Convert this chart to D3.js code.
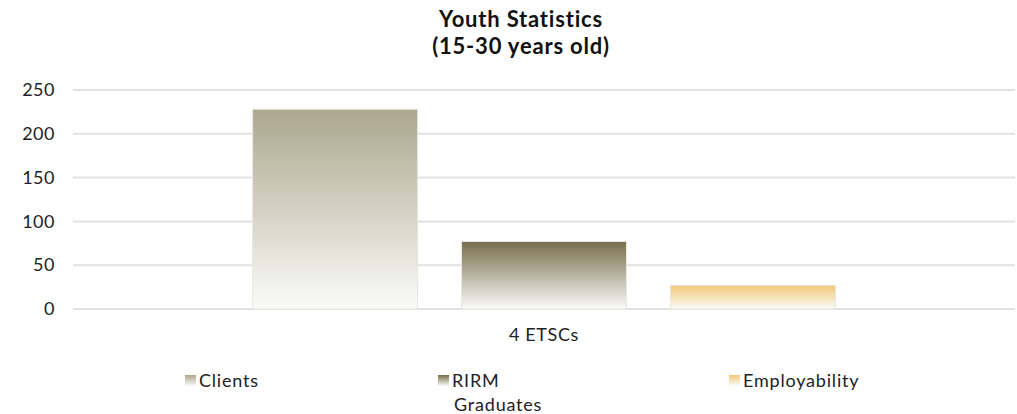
<!DOCTYPE html>
<html>
<head>
<meta charset="utf-8">
<script src="https://cdn.jsdelivr.net/npm/d3@7"></script>
<style>
  html, body { margin: 0; padding: 0; background: #ffffff; }
  svg { display: block; font-family: Lato, "Open Sans", sans-serif; }
</style>
</head>
<body>
<svg id="chart" width="1017" height="414"></svg>
<script>
// Youth statistics, one category group with three series
const titleLines = ["Youth Statistics", "(15-30 years old)"];
const categories = ["4 ETSCs"];
const seriesNames = ["Clients", "RIRM Graduates", "Employability"];
const seriesValues = [228, 77, 27];
const yTicks = [0, 50, 100, 150, 200, 250];
const seriesTopColors = ["#aca78d", "#776e4c", "#f1c978"];

const svg = d3.select("#chart");
const W = 1017, H = 414;
const margin = { left: 73, right: 2, top: 90, bottom: 105 };
const plotW = W - margin.left - margin.right;
const plotH = H - margin.top - margin.bottom;

// Vertical gradients: series colour at the top fading to near-white at the base
const defs = svg.append("defs");
seriesNames.forEach((name, i) => {
  const g = defs.append("linearGradient")
    .attr("id", "grad" + i)
    .attr("x1", 0).attr("y1", 0).attr("x2", 0).attr("y2", 1);
  g.append("stop").attr("offset", "0%").attr("stop-color", seriesTopColors[i]);
  g.append("stop").attr("offset", "100%").attr("stop-color", "#fbfbf9");
});

const x0 = d3.scaleBand().domain(categories).range([0, plotW]).paddingInner(0).paddingOuter(0);
const x1 = d3.scaleBand().domain(seriesNames).range([0, x0.bandwidth()])
  .paddingInner(0.21).paddingOuter(0.86);
const y = d3.scaleLinear().domain([0, 250]).range([plotH, 0]);

const g = svg.append("g").attr("transform", `translate(${margin.left},${margin.top})`);

// Horizontal gridlines
g.append("g").selectAll("line").data(yTicks).join("line")
  .attr("x1", 0).attr("x2", plotW)
  .attr("y1", d => y(d)).attr("y2", d => y(d))
  .attr("stroke", "#e2e2e2").attr("stroke-width", 2);

// Y axis labels
const yAxis = d3.axisLeft(y).tickValues(yTicks).tickSize(0).tickPadding(18);
g.append("g").call(yAxis)
  .call(a => a.select(".domain").remove())
  .selectAll("text")
  .attr("font-size", 18).attr("letter-spacing", 0.5)
  .attr("fill", "#222").attr("font-family", "Lato, sans-serif");

// Bars
const group = g.append("g").selectAll("g").data(categories).join("g")
  .attr("transform", d => `translate(${x0(d)},0)`);
group.selectAll("rect").data(seriesNames.map((n, i) => ({ n, v: seriesValues[i], i })))
  .join("rect")
  .attr("x", d => x1(d.n))
  .attr("width", x1.bandwidth())
  .attr("y", d => y(d.v))
  .attr("height", d => y(0) - y(d.v))
  .attr("fill", d => `url(#grad${d.i})`)
  .attr("stroke", "#e6e6e2").attr("stroke-width", 1);

// Category axis label
const xAxis = d3.axisBottom(x0).tickSize(0).tickPadding(19);
g.append("g").attr("transform", `translate(0,${plotH})`).call(xAxis)
  .call(a => a.select(".domain").remove())
  .selectAll("text")
  .attr("font-size", 18).attr("letter-spacing", 0.6)
  .attr("fill", "#222").attr("font-family", "Lato, sans-serif");

// Title
const title = svg.append("text").attr("text-anchor", "middle")
  .attr("font-size", 22).attr("font-weight", "bold").attr("letter-spacing", 0.8)
  .attr("fill", "#111");
titleLines.forEach((t, i) => {
  title.append("tspan").attr("x", 521).attr("y", 27 + i * 27).text(t);
});

// Legend
const legendX = [185, 438, 729];
const legendWrap = [["Clients"], ["RIRM", "Graduates"], ["Employability"]];
const legend = svg.append("g").selectAll("g").data(seriesNames).join("g")
  .attr("transform", (d, i) => `translate(${legendX[i]},375)`);
legend.append("rect").attr("width", 11).attr("height", 11)
  .attr("fill", (d, i) => `url(#grad${i})`);
legend.append("text")
  .attr("font-size", 18).attr("letter-spacing", 0.8).attr("fill", "#222")
  .each(function (d, i) {
    const t = d3.select(this);
    legendWrap[i].forEach((line, j) => {
      t.append("tspan").attr("x", j === 0 ? 14 : 16).attr("y", 12 + j * 24).text(line);
    });
  });
</script>
</body>
</html>
